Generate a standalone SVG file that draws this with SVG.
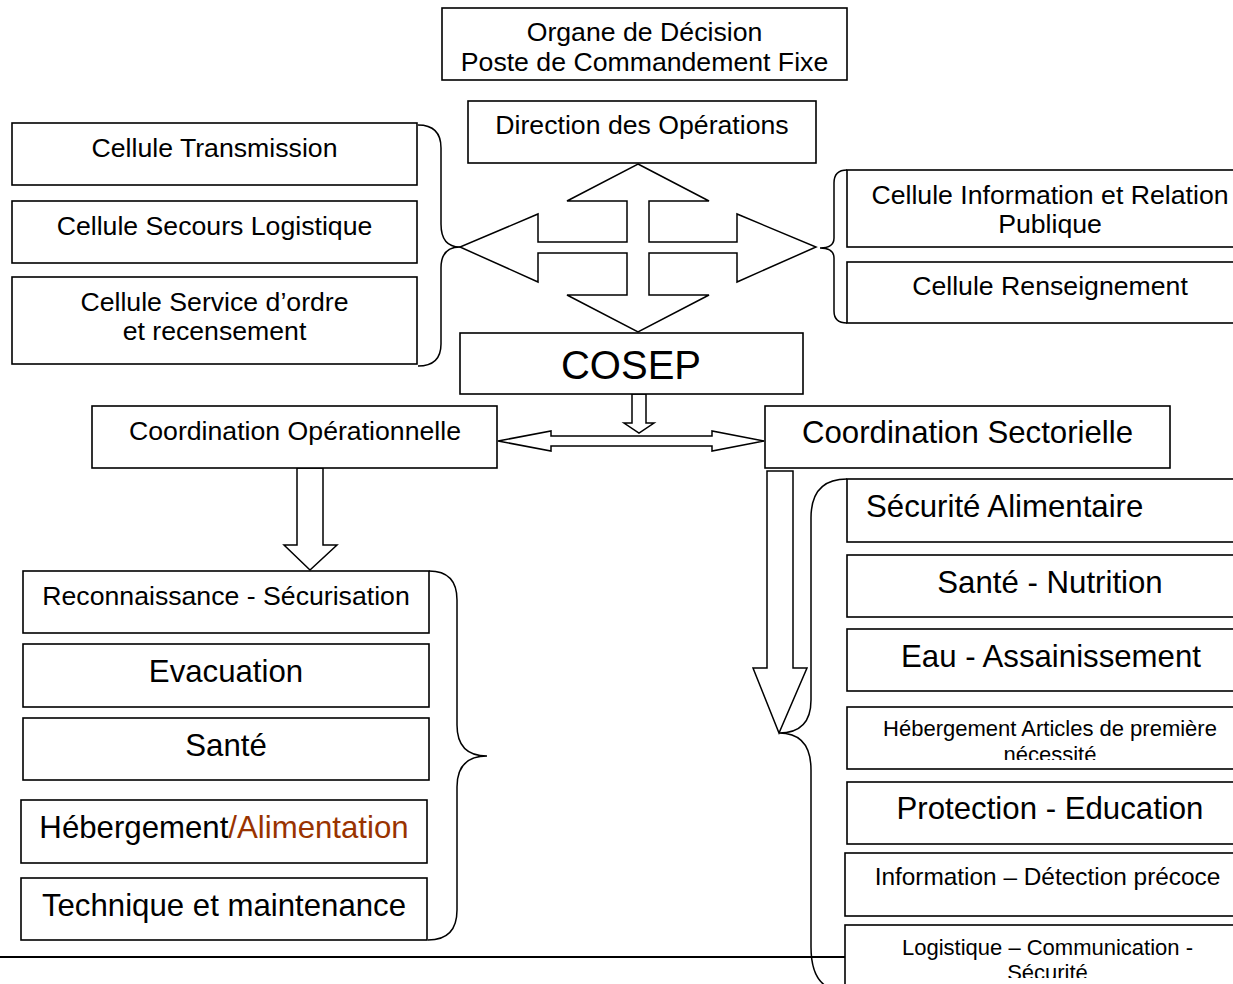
<svg xmlns="http://www.w3.org/2000/svg" width="1233" height="984" viewBox="0 0 1233 984">
<style>
.box{fill:#fff;stroke:#000;stroke-width:1.6}
.ln{fill:none;stroke:#000;stroke-width:1.5}
.ar{fill:#fff;stroke:#000;stroke-width:1.5;stroke-linejoin:miter}
text{font-family:"Liberation Sans",Arial,sans-serif;fill:#000;text-anchor:middle}
.f20{font-size:26.67px}
.f23{font-size:31.2px}
.f30{font-size:40px}
.f16{font-size:22px}
.f18{font-size:24.4px}
</style>
<defs>
<clipPath id="clipHeb"><rect x="846" y="700" width="400" height="60"/></clipPath>
<clipPath id="clipLog"><rect x="844" y="920" width="400" height="58"/></clipPath>
</defs>
<rect width="1233" height="984" fill="#fff"/>

<g id="connectors">
  <polygon class="ar" points="638,164 709,201 649,201 649,242 737,242 737,214 816,247 737,282 737,253 649,253 649,295 709,295 638,332 567,295 627,295 627,253 538,253 538,282 460,247 538,214 538,242 627,242 627,201 567,201"/>
  <polygon class="ar" points="632,394 646,394 646,423 654,423 639,433 624,423 632,423"/>
  <polygon class="ar" points="498,441 551,431 551,436 712,436 712,431 764,441 712,451 712,446 551,446 551,451"/>
  <polygon class="ar" points="297,468 323,468 323,545 337,545 310,570 284,545 297,545"/>
  <polygon class="ar" points="767,471 793,471 793,668 807,668 779,733 753,668 767,668"/>
  <path class="ln" d="M418,125 Q441,125 441,148 L441,224 Q441,247 460,247 Q441,247 441,268 L441,344 Q441,366 418,366"/>
  <path class="ln" d="M847,170 Q834,170 834,183 L834,238 Q834,248 820,248 Q834,248 834,258 L834,311 Q834,323 847,323"/>
  <path class="ln" d="M429,571 Q457,571 457,600 L457,725 Q457,756 487,756 Q457,756 457,787 L457,910 Q457,940 428,940"/>
  <path class="ln" d="M847,479 Q811,479 811,518 L811,700 Q811,733 779,733 Q811,733 811,770 L811,947 Q811,984 835,990"/>
  <line x1="0" y1="957" x2="845" y2="957" stroke="#000" stroke-width="2"/>
</g>

<g id="organe">
  <rect class="box" x="442" y="8" width="405" height="72"/>
  <text class="f20" x="644.5" y="41">Organe de Décision</text>
  <text class="f20" x="644.5" y="71">Poste de Commandement Fixe</text>
</g>
<g id="direction">
  <rect class="box" x="468" y="101" width="348" height="62"/>
  <text class="f20" x="642" y="134">Direction des Opérations</text>
</g>
<g id="cellule-transmission">
  <rect class="box" x="12" y="123" width="405" height="62"/>
  <text class="f20" x="214.5" y="157">Cellule Transmission</text>
</g>
<g id="cellule-secours">
  <rect class="box" x="12" y="201" width="405" height="62"/>
  <text class="f20" x="214.5" y="235">Cellule Secours Logistique</text>
</g>
<g id="cellule-service">
  <rect class="box" x="12" y="277" width="405" height="87"/>
  <text class="f20" x="214.5" y="311">Cellule Service d’ordre</text>
  <text class="f20" x="214.5" y="340">et recensement</text>
</g>
<g id="cellule-information">
  <rect class="box" x="847" y="170" width="410" height="77"/>
  <text class="f20" x="1050" y="204">Cellule Information et Relation</text>
  <text class="f20" x="1050" y="233">Publique</text>
</g>
<g id="cellule-renseignement">
  <rect class="box" x="847" y="262" width="410" height="61"/>
  <text class="f20" x="1050" y="295">Cellule Renseignement</text>
</g>
<g id="cosep">
  <rect class="box" x="460" y="333" width="343" height="61"/>
  <text class="f30" x="631" y="379">COSEP</text>
</g>
<g id="coord-op">
  <rect class="box" x="92" y="406" width="405" height="62"/>
  <text class="f20" x="295" y="440">Coordination Opérationnelle</text>
</g>
<g id="coord-sect">
  <rect class="box" x="765" y="406" width="405" height="62"/>
  <text class="f23" x="967.5" y="443">Coordination Sectorielle</text>
</g>

<g id="reconnaissance">
  <rect class="box" x="23" y="571" width="406" height="62"/>
  <text class="f20" x="226" y="605">Reconnaissance - Sécurisation</text>
</g>
<g id="evacuation">
  <rect class="box" x="23" y="644" width="406" height="63"/>
  <text class="f23" x="226" y="682">Evacuation</text>
</g>
<g id="sante">
  <rect class="box" x="23" y="718" width="406" height="62"/>
  <text class="f23" x="226" y="756">Santé</text>
</g>
<g id="hebergement">
  <rect class="box" x="21" y="800" width="406" height="63"/>
  <text class="f23" x="224" y="838">Hébergement<tspan fill="#993300">/Alimentation</tspan></text>
</g>
<g id="technique">
  <rect class="box" x="21" y="878" width="406" height="62"/>
  <text class="f23" x="224" y="916">Technique et maintenance</text>
</g>

<g id="securite-alimentaire">
  <rect class="box" x="847" y="479" width="410" height="63"/>
  <text class="f23" x="866" y="517" style="text-anchor:start">Sécurité Alimentaire</text>
</g>
<g id="sante-nutrition">
  <rect class="box" x="847" y="555" width="410" height="62"/>
  <text class="f23" x="1050" y="593">Santé - Nutrition</text>
</g>
<g id="eau">
  <rect class="box" x="847" y="629" width="410" height="62"/>
  <text class="f23" x="1051" y="667">Eau - Assainissement</text>
</g>
<g id="hebergement-articles">
  <rect class="box" x="847" y="707" width="410" height="62"/>
  <g clip-path="url(#clipHeb)">
    <text class="f16" x="1050" y="736">Hébergement Articles de première</text>
    <text class="f16" x="1050" y="762">nécessité</text>
  </g>
</g>
<g id="protection">
  <rect class="box" x="847" y="782" width="410" height="62"/>
  <text class="f23" x="1050" y="819">Protection - Education</text>
</g>
<g id="information">
  <rect class="box" x="845" y="853" width="412" height="63"/>
  <text class="f18" x="1047.5" y="885">Information – Détection précoce</text>
</g>
<g id="logistique">
  <rect class="box" x="845" y="925" width="412" height="80"/>
  <g clip-path="url(#clipLog)">
    <text class="f16" x="1047.5" y="955">Logistique – Communication -</text>
    <text class="f16" x="1047.5" y="980">Sécurité</text>
  </g>
</g>
</svg>
